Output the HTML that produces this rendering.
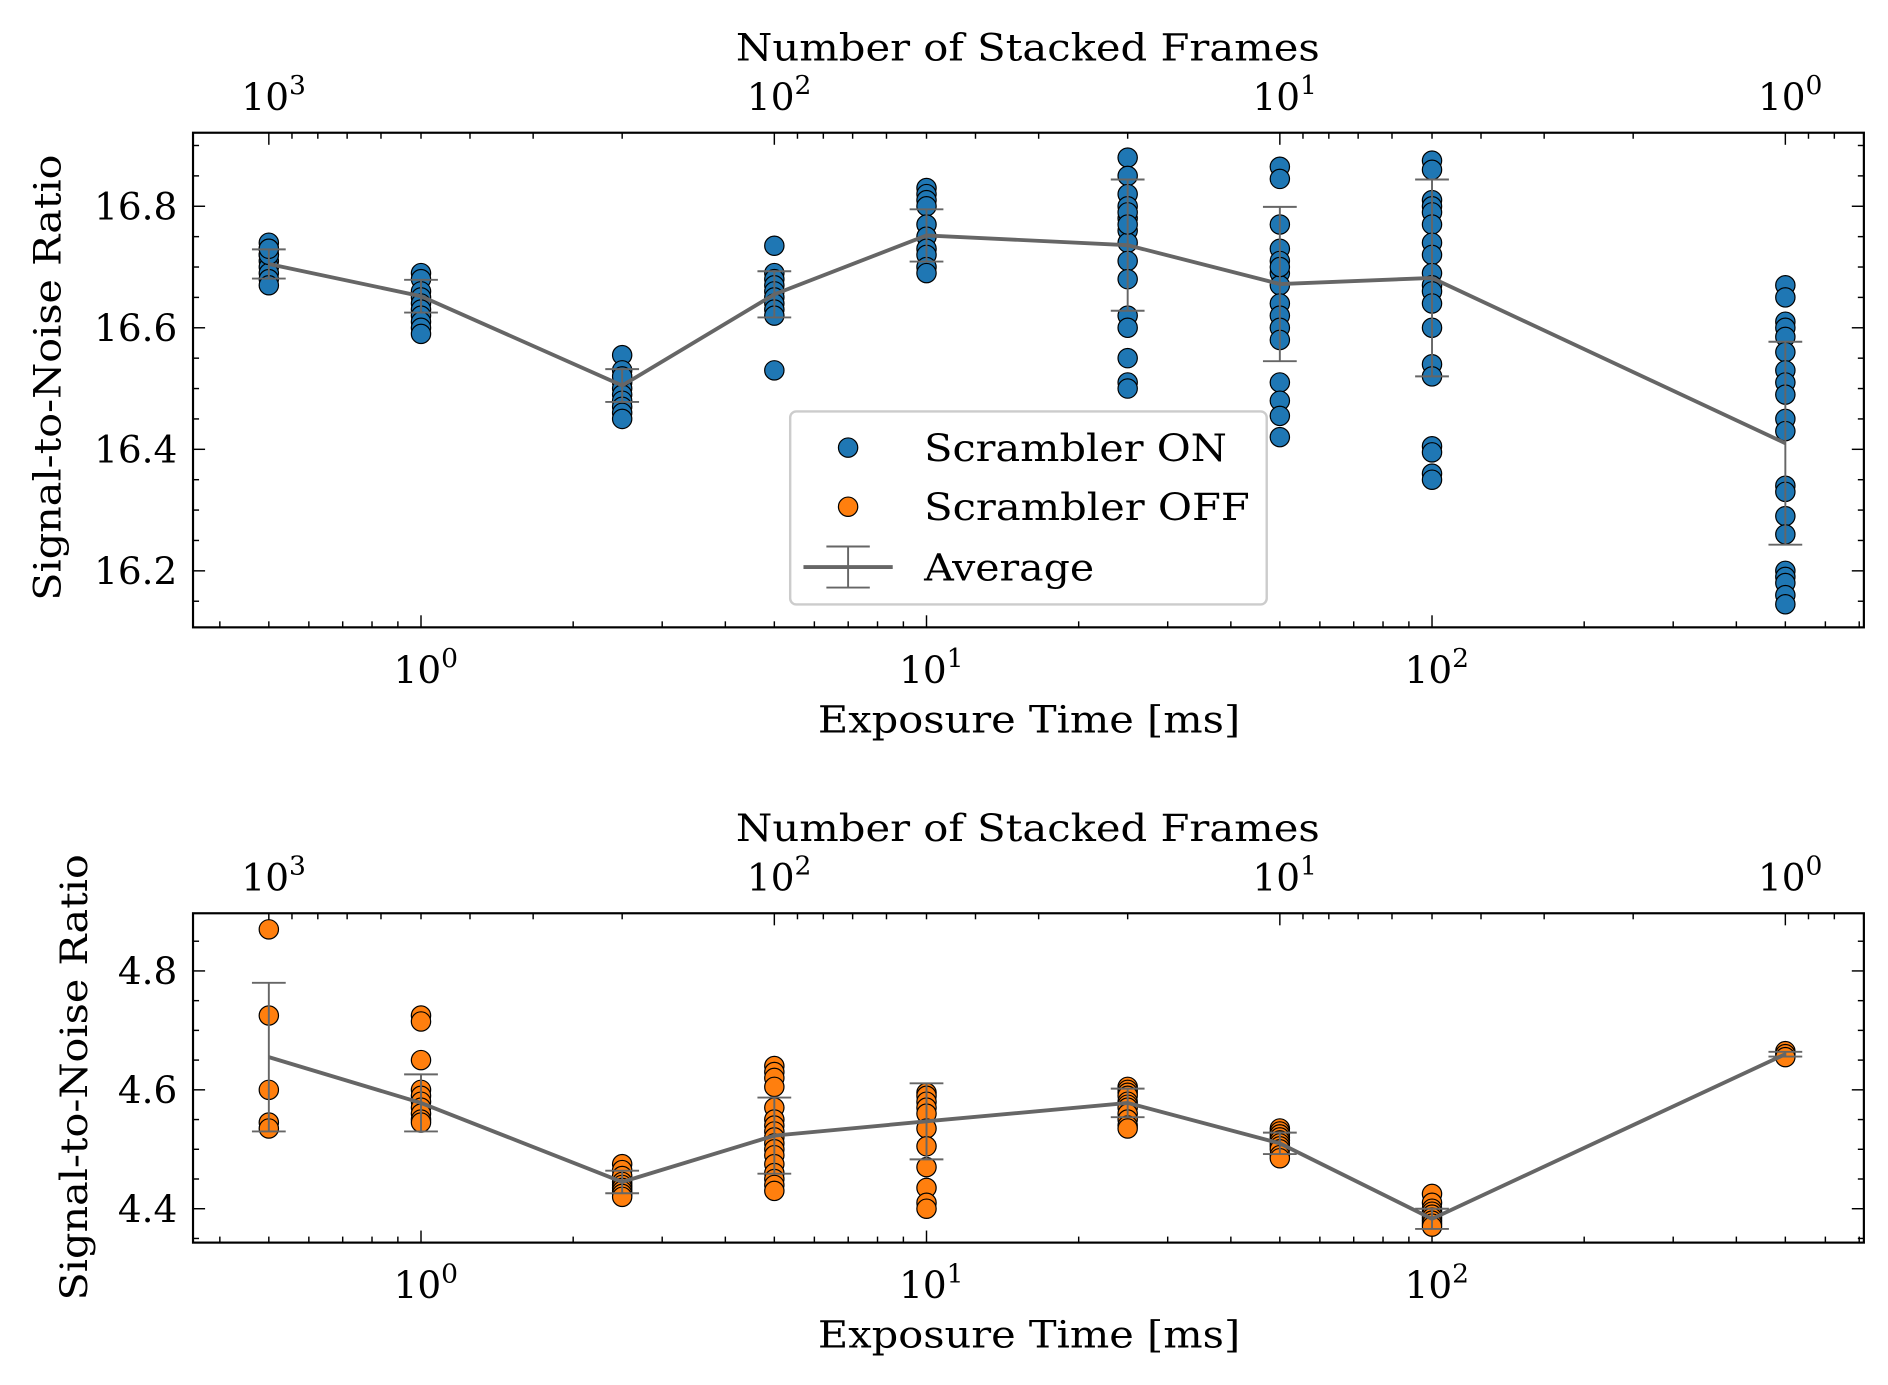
<!DOCTYPE html>
<html><head><meta charset="utf-8"><style>
html,body{margin:0;padding:0;background:#fff}
svg{display:block}
text{font-family:"DejaVu Serif","Liberation Serif",serif;fill:#000}
</style></head><body>
<svg id="fig" width="1888" height="1385" viewBox="0 0 1565 1148" xmlns="http://www.w3.org/2000/svg"></svg>
<script>
// ---------- data ----------
const exposures = [0.5, 1, 2.5, 5, 10, 25, 50, 100, 500];
const onPoints = [
 [16.74,16.73,16.72,16.71,16.70,16.69,16.68,16.67,16.72,16.73],
 [16.69,16.68,16.66,16.65,16.64,16.63,16.62,16.61,16.60,16.59],
 [16.555,16.53,16.51,16.50,16.49,16.48,16.47,16.46,16.45,16.52],
 [16.735,16.69,16.68,16.67,16.66,16.65,16.64,16.63,16.62,16.53],
 [16.83,16.82,16.81,16.80,16.77,16.75,16.73,16.72,16.70,16.69],
 [16.88,16.85,16.82,16.80,16.78,16.76,16.74,16.71,16.68,16.62,16.60,16.55,16.51,16.50,16.79,16.77],
 [16.865,16.845,16.77,16.73,16.71,16.69,16.67,16.64,16.62,16.60,16.58,16.51,16.48,16.455,16.42,16.70],
 [16.875,16.86,16.81,16.80,16.79,16.77,16.74,16.72,16.69,16.67,16.66,16.64,16.60,16.54,16.52,16.405,16.395,16.36,16.35],
 [16.67,16.65,16.61,16.60,16.585,16.56,16.53,16.51,16.49,16.45,16.43,16.34,16.33,16.29,16.26,16.20,16.19,16.18,16.16,16.145]
];
const onMean = [16.705,16.652,16.505,16.655,16.752,16.736,16.672,16.682,16.41];
const onStd  = [0.024,0.027,0.027,0.038,0.043,0.108,0.127,0.162,0.167];
const offPoints = [
 [4.87,4.725,4.60,4.545,4.535],
 [4.725,4.715,4.65,4.60,4.59,4.58,4.57,4.56,4.55,4.545],
 [4.475,4.465,4.455,4.445,4.44,4.435,4.43,4.425,4.42],
 [4.64,4.63,4.62,4.605,4.57,4.55,4.54,4.53,4.52,4.51,4.50,4.49,4.475,4.46,4.45,4.44,4.43],
 [4.595,4.59,4.58,4.57,4.56,4.535,4.505,4.47,4.435,4.41,4.40],
 [4.605,4.60,4.595,4.59,4.58,4.575,4.57,4.56,4.55,4.54,4.535],
 [4.535,4.53,4.525,4.52,4.515,4.51,4.505,4.50,4.49,4.485],
 [4.425,4.41,4.40,4.395,4.39,4.385,4.38,4.375,4.37],
 [4.665,4.66,4.655]
];
const offMean = [4.655,4.578,4.445,4.523,4.547,4.578,4.51,4.383,4.66];
const offStd  = [0.125,0.048,0.019,0.064,0.064,0.024,0.018,0.017,0.004];
const topYTicks = [16.2,16.4,16.6,16.8];
const botYTicks = [4.4,4.6,4.8];
const decadeTicks = [0,1,2];
const frameDecades = [3,2,1,0];

// ---------- helpers ----------
const NS='http://www.w3.org/2000/svg';
const svg=document.getElementById('fig');
function mk(tag,attrs,parent){const e=document.createElementNS(NS,tag);for(const k in attrs)e.setAttribute(k,attrs[k]);(parent||svg).appendChild(e);return e;}
const X0=160,X1=1545;
const xlo=Math.log10(0.354), xhi=Math.log10(715);
function xs(t){return X0+(Math.log10(t)-xlo)/(xhi-xlo)*(X1-X0);}

function panel(cfg){
  const g=mk('g',{});
  
  
  const {top,bot,ylo,yhi}=cfg;
  const ys=v=>bot-(v-ylo)/(yhi-ylo)*(bot-top);
  for(let d=-1;d<=3;d++){for(let m=1;m<10;m++){const t=m*Math.pow(10,d);const x=xs(t);if(x<X0||x>X1)continue;
    const L=m===1?10:5;
    mk('line',{x1:x,y1:bot,x2:x,y2:bot-L,stroke:'#000','stroke-width':1.2},g);}}
  for(let d=-1;d<=4;d++){for(let m=1;m<10;m++){const f=m*Math.pow(10,d);const x=xs(500/f);if(x<X0||x>X1)continue;
    const L=m===1?10:5;
    mk('line',{x1:x,y1:top,x2:x,y2:top+L,stroke:'#000','stroke-width':1.2},g);}}
  for(let v=Math.ceil(ylo/0.05)*0.05; v<=yhi; v+=0.05){const y=ys(v);
    const major=Math.abs(Math.round(v*5)-v*5)<1e-6;const L=major?10:5;
    mk('line',{x1:X0,y1:y,x2:X0+L,y2:y,stroke:'#000','stroke-width':1.2},g);
    mk('line',{x1:X1,y1:y,x2:X1-L,y2:y,stroke:'#000','stroke-width':1.2},g);}
  cfg.yticks.forEach(v=>{const t=mk('text',{x:X0-13,y:ys(v)+11,'text-anchor':'end','font-size':31},g);t.textContent=v.toFixed(1);
    
    });
  decadeTicks.forEach(d=>{const t=mk('text',{x:xs(Math.pow(10,d))+4,y:bot+46,'text-anchor':'middle','font-size':31},g);
    t.innerHTML='10<tspan font-size="22" dy="-13">'+d+'</tspan>';
    
    });
  frameDecades.forEach(d=>{const t=mk('text',{x:xs(500/Math.pow(10,d))+4,y:top-19,'text-anchor':'middle','font-size':31},g);
    t.innerHTML='10<tspan font-size="22" dy="-13">'+d+'</tspan>';
    
    });
  const tt=mk('text',{x:610,y:top-60,'font-size':31,textLength:484,lengthAdjust:'spacingAndGlyphs'},g);tt.textContent='Number of Stacked Frames';
  
  
  const xl=mk('text',{x:678,y:bot+87,'font-size':31,textLength:350,lengthAdjust:'spacingAndGlyphs'},g);xl.textContent='Exposure Time [ms]';
  
  
  const yl=mk('text',{x:-185,y:0,'font-size':31,textLength:370,lengthAdjust:'spacingAndGlyphs',transform:`translate(${cfg.ylabX},${cfg.ylabY}) rotate(-90)`},g);yl.textContent='Signal-to-Noise Ratio';
  
  
  cfg.points.forEach((arr,i)=>arr.forEach(v=>{const c=mk('circle',{cx:xs(exposures[i]),cy:ys(v),r:8,fill:cfg.color,stroke:'#000','stroke-width':1},g);
    
    }));
  cfg.mean.forEach((m,i)=>{const x=xs(exposures[i]);const a=ys(m+cfg.std[i]),b=ys(m-cfg.std[i]);
    const eg=mk('g',{stroke:'#666','stroke-width':1.6},g);
    
    
    mk('line',{x1:x,y1:a,x2:x,y2:b},eg);
    mk('line',{x1:x-14,y1:a,x2:x+14,y2:a},eg);
    mk('line',{x1:x-14,y1:b,x2:x+14,y2:b},eg);});
  const pl=mk('polyline',{points:cfg.mean.map((m,i)=>xs(exposures[i])+','+ys(m)).join(' '),fill:'none',stroke:'#666','stroke-width':3.2},g);
  
  
  mk('rect',{x:X0,y:top,width:X1-X0,height:bot-top,fill:'none',stroke:'#000','stroke-width':1.8},g);
  return g;
}
panel({name:'top-panel-scrambler-on',top:110,bot:520,ylo:16.107,yhi:16.921,yticks:topYTicks,points:onPoints,mean:onMean,std:onStd,color:'#1f77b4',ylabX:50,ylabY:313});
panel({name:'bottom-panel-scrambler-off',top:757,bot:1030,ylo:4.343,yhi:4.897,yticks:botYTicks,points:offPoints,mean:offMean,std:offStd,color:'#ff7f0e',ylabX:72,ylabY:893});

const lg=mk('g',{});


mk('rect',{x:655,y:341,width:395,height:160,rx:5,fill:'#fff','fill-opacity':0.85,stroke:'#ccc','stroke-width':2},lg);
[['Scrambler ON','#1f77b4',371,251],['Scrambler OFF','#ff7f0e',420,270]].forEach(e=>{
  const c=mk('circle',{cx:703,cy:e[2],r:8,fill:e[1],stroke:'#000','stroke-width':1},lg);
  
  
  const t=mk('text',{x:766,y:e[2]+11,'font-size':31,textLength:e[3],lengthAdjust:'spacingAndGlyphs'},lg);t.textContent=e[0];
  
  });
const ag=mk('g',{stroke:'#666'},lg);
mk('line',{x1:666,y1:470,x2:740,y2:470,'stroke-width':3.2},ag);
mk('line',{x1:703,y1:453,x2:703,y2:487,'stroke-width':1.6},ag);
mk('line',{x1:685,y1:453,x2:721,y2:453,'stroke-width':1.6},ag);
mk('line',{x1:685,y1:487,x2:721,y2:487,'stroke-width':1.6},ag);
const at=mk('text',{x:766,y:481,'font-size':31,textLength:141,lengthAdjust:'spacingAndGlyphs'},lg);at.textContent='Average';


</script>
</body></html>
